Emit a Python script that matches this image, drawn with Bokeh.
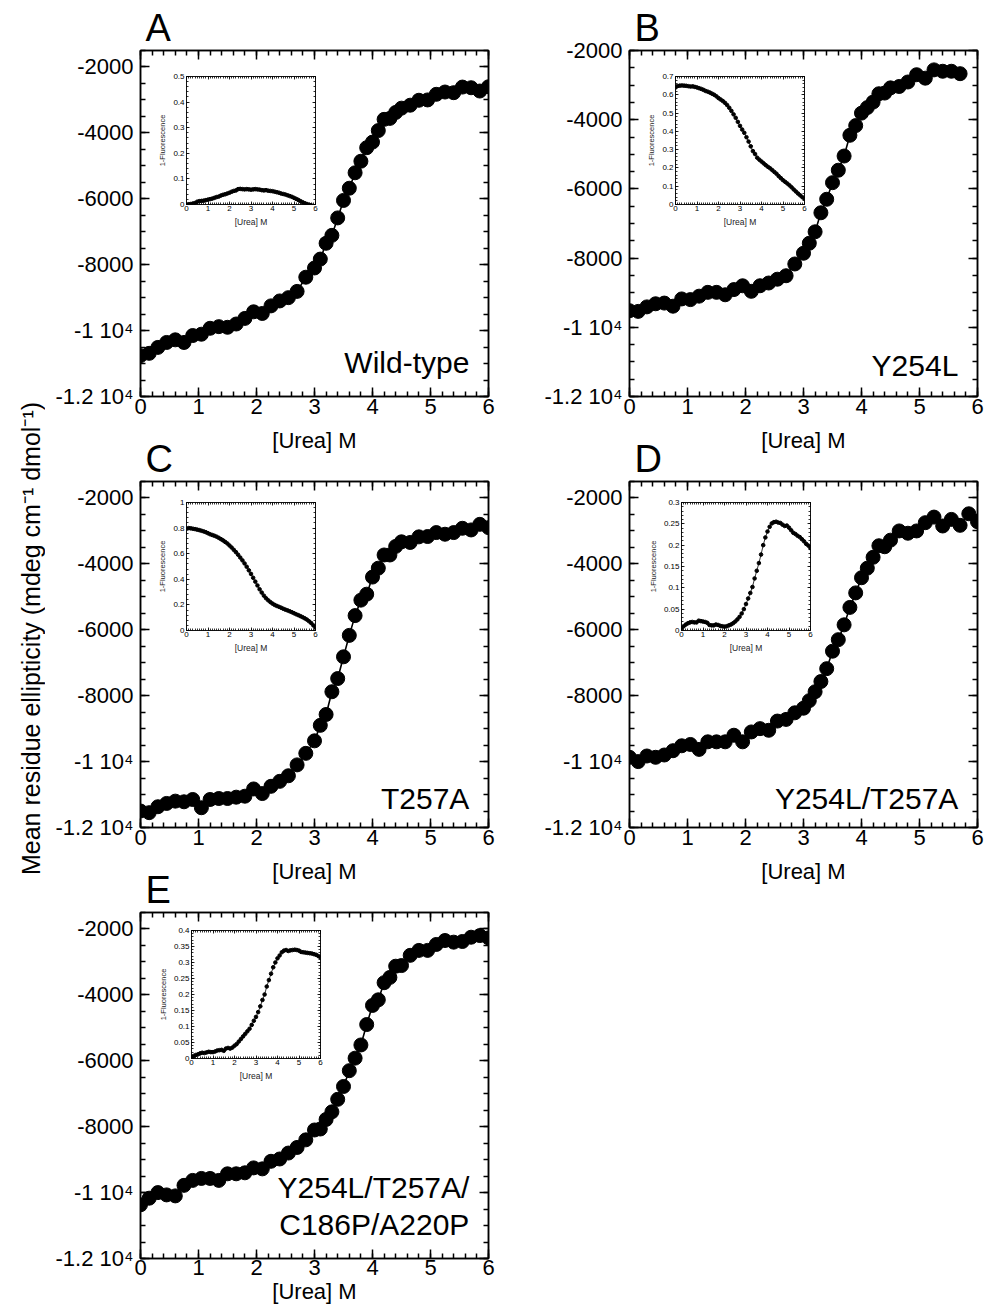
import numpy as np
from bokeh.plotting import figure
from bokeh.models import Range1d, LinearAxis, FixedTicker, Title, Label, CustomJSTickFormatter, Spacer
from bokeh.layouts import column, row
from bokeh.embed import file_html
from bokeh.resources import INLINE

FONT = "Liberation Sans"

# ---------------- data ----------------
UREA_CD = [0, 0.15, 0.3, 0.45, 0.6, 0.75, 0.9, 1.05, 1.2, 1.35, 1.5, 1.65, 1.8, 1.95, 2.1, 2.25, 2.4, 2.55, 2.7, 2.85,
           3.0, 3.1, 3.2, 3.3, 3.4, 3.5, 3.6, 3.7, 3.8, 3.9, 4.0, 4.1, 4.2, 4.3, 4.4, 4.5,
           4.65, 4.8, 4.95, 5.1, 5.25, 5.4, 5.55, 5.7, 5.85, 6.0]

CD_A = [-10760, -10690, -10510, -10360, -10280, -10360, -10150, -10110, -9930, -9880,
        -9900, -9800, -9630, -9430, -9480, -9250, -9100, -9000, -8810, -8380,
        -8100, -7830, -7350, -7110, -6580, -6050, -5680, -5210, -4860, -4450,
        -4280, -3930, -3590, -3560, -3380, -3250,
        -3160, -3010, -3000, -2830, -2760, -2780, -2610, -2630, -2730, -2600]
CD_B = [-9520, -9540, -9410, -9320, -9300, -9390, -9180, -9200, -9100, -8990,
        -8990, -9060, -8910, -8800, -8960, -8800, -8720, -8610, -8510, -8170,
        -7860, -7570, -7240, -6690, -6300, -5820, -5460, -5050, -4450, -4170,
        -3810, -3650, -3490, -3250, -3230, -3080,
        -3040, -2910, -2700, -2800, -2560, -2600, -2600, -2670]
CD_C = [-11500, -11550, -11370, -11270, -11200, -11220, -11150, -11400, -11150, -11120,
        -11120, -11080, -11050, -10830, -10970, -10750, -10600, -10430, -10100, -9750,
        -9370, -8900, -8570, -7880, -7480, -6820, -6170, -5570, -5100, -4920,
        -4400, -4130, -3730, -3730, -3470, -3330,
        -3350, -3180, -3170, -3050, -3100, -3050, -2920, -2970, -2800, -2900]
CD_D = [-9870, -10000, -9830, -9870, -9800, -9670, -9520, -9480, -9630, -9400,
        -9400, -9400, -9200, -9400, -9100, -9000, -9050, -8770, -8720, -8520,
        -8380, -8150, -7880, -7570, -7180, -6650, -6300, -5850, -5320, -4880,
        -4420, -4130, -3800, -3450, -3480, -3280,
        -3000, -3070, -3000, -2750, -2580, -2850, -2650, -2830, -2480, -2720]
CD_E = [-10370, -10170, -10000, -10070, -10100, -9780, -9630, -9570, -9570, -9630,
        -9430, -9430, -9400, -9250, -9280, -9050, -8980, -8800, -8630, -8400,
        -8100, -8070, -7780, -7550, -7170, -6780, -6300, -5920, -5520, -4900,
        -4320, -4150, -3630, -3470, -3130, -3110,
        -2800, -2650, -2650, -2470, -2350, -2400, -2380, -2250, -2200, -2270]

UREA_FL = [0.0, 0.1, 0.2, 0.3, 0.4, 0.5, 0.6, 0.7, 0.8, 0.9, 1.0, 1.1, 1.2, 1.3, 1.4, 1.5, 1.6, 1.7, 1.8, 1.9,
           2.0, 2.1, 2.2, 2.3, 2.4, 2.5, 2.6, 2.7, 2.8, 2.9, 3.0, 3.1, 3.2, 3.3, 3.4, 3.5, 3.6, 3.7, 3.8, 3.9,
           4.0, 4.1, 4.2, 4.3, 4.4, 4.5, 4.6, 4.7, 4.8, 4.9, 5.0, 5.1, 5.2, 5.3, 5.4, 5.5, 5.6, 5.7, 5.8, 5.9, 6.0]

FL_A = [0.000, 0.001, 0.002, 0.004, 0.006, 0.011, 0.013, 0.014, 0.015, 0.017,
        0.019, 0.021, 0.023, 0.026, 0.029, 0.031, 0.035, 0.038, 0.040, 0.043,
        0.046, 0.050, 0.053, 0.055, 0.060, 0.061, 0.060, 0.059, 0.060, 0.059,
        0.058, 0.059, 0.060, 0.059, 0.058, 0.056, 0.055, 0.056, 0.054, 0.053,
        0.052, 0.050, 0.048, 0.046, 0.043, 0.041, 0.039, 0.036, 0.033, 0.030,
        0.026, 0.022, 0.018, 0.013, 0.009, 0.005, 0.002, -0.001, -0.003]
FL_B = [0.640, 0.648, 0.650, 0.651, 0.650, 0.649, 0.647, 0.645, 0.646, 0.643,
        0.640, 0.636, 0.632, 0.627, 0.621, 0.617, 0.612, 0.606, 0.600, 0.592,
        0.582, 0.574, 0.566, 0.556, 0.544, 0.529, 0.512, 0.493, 0.474, 0.452,
        0.430, 0.410, 0.392, 0.368, 0.344, 0.318, 0.292, 0.276, 0.256, 0.245,
        0.235, 0.225, 0.215, 0.206, 0.198, 0.188, 0.178, 0.168, 0.155, 0.144,
        0.133, 0.124, 0.115, 0.105, 0.094, 0.082, 0.071, 0.060, 0.050, 0.040, 0.032]
FL_C = [0.795, 0.800, 0.798, 0.795, 0.792, 0.788, 0.784, 0.779, 0.774, 0.768,
        0.760, 0.752, 0.746, 0.740, 0.733, 0.724, 0.714, 0.704, 0.692, 0.680,
        0.664, 0.648, 0.630, 0.612, 0.592, 0.570, 0.548, 0.524, 0.498, 0.470,
        0.442, 0.412, 0.382, 0.352, 0.322, 0.296, 0.272, 0.252, 0.236, 0.222,
        0.210, 0.200, 0.192, 0.185, 0.178, 0.170, 0.163, 0.157, 0.150, 0.143,
        0.135, 0.127, 0.120, 0.112, 0.104, 0.095, 0.085, 0.072, 0.058, 0.040, 0.022]
FL_D = [0.005, 0.010, 0.014, 0.017, 0.019, 0.020, 0.019, 0.019, 0.023, 0.022,
        0.021, 0.020, 0.018, 0.013, 0.012, 0.012, 0.014, 0.013, 0.011, 0.010,
        0.009, 0.010, 0.012, 0.014, 0.017, 0.021, 0.026, 0.032, 0.040, 0.050,
        0.062, 0.075, 0.088, 0.102, 0.122, 0.140, 0.158, 0.178, 0.200, 0.218,
        0.232, 0.243, 0.251, 0.254, 0.255, 0.253, 0.252, 0.248, 0.245, 0.246,
        0.241, 0.235, 0.229, 0.226, 0.222, 0.219, 0.214, 0.209, 0.203, 0.199, 0.193]
FL_E = [0.003, 0.008, 0.011, 0.013, 0.016, 0.018, 0.017, 0.019, 0.021, 0.020,
        0.020, 0.022, 0.025, 0.026, 0.027, 0.024, 0.031, 0.033, 0.031, 0.034,
        0.040, 0.045, 0.053, 0.061, 0.069, 0.077, 0.085, 0.093, 0.105, 0.118,
        0.130, 0.145, 0.163, 0.183, 0.200, 0.225, 0.245, 0.265, 0.285, 0.300,
        0.313, 0.322, 0.332, 0.337, 0.339, 0.336, 0.338, 0.339, 0.340, 0.339,
        0.337, 0.333, 0.332, 0.331, 0.330, 0.329, 0.328, 0.326, 0.324, 0.320, 0.316]

PANEL_LETTERS = ["A", "B", "C", "D", "E"]
VARIANTS = [["Wild-type"], ["Y254L"], ["T257A"], ["Y254L/T257A"], ["Y254L/T257A/", "C186P/A220P"]]
CD_TICKS = [-12000, -10000, -8000, -6000, -4000, -2000]
CD_TICK_LABELS = ["-1.2 10\u2074", "-1 10\u2074", "-8000", "-6000", "-4000", "-2000"]
UREA_TICKS = [0, 1, 2, 3, 4, 5, 6]
X_LABEL = "[Urea] M"
Y_LABEL = "Mean residue ellipticity (mdeg cm\u207b\u00b9 dmol\u207b\u00b9)"
FL_LABEL = "1-Fluorescence"
FL_YMAX = [0.5, 0.7, 1.0, 0.3, 0.4]
FL_YSTEP = [0.1, 0.1, 0.2, 0.05, 0.05]

# ---------------- geometry / style ----------------
FW, FH = 348, 346
TOPB = 50
BOT_UPPER, STAND_UPPER = 65, 11     # rows 1-2: room for the x-axis title
BOT_LAST, STAND_LAST = 54, 1        # last row must fit the window
ROW_PITCH = 430
IFW, IFH = 129, 128
IL, IT, IR, IB = 30, 5, 6, 24
INS_H = IT + IFH + IB
LW = 1.5
YLAB_W, YLAB_H, YLAB_SHIFT = 44, 560, 24


def hide_labels(ax):
    ax.formatter = CustomJSTickFormatter(code="return ''")
    ax.major_label_text_font_size = "1px"
    ax.major_label_standoff = 0


def style_axis(ax, ticks, minor, tin, min_in, lw, font_size=None, overrides=None, hidden=False):
    ax.ticker = FixedTicker(ticks=ticks, minor_ticks=minor)
    ax.major_tick_in = tin
    ax.major_tick_out = 0
    ax.minor_tick_in = min_in
    ax.minor_tick_out = 0
    for a in ("axis_line", "major_tick_line", "minor_tick_line"):
        setattr(ax, a + "_color", "black")
        setattr(ax, a + "_width", lw)
    if hidden:
        hide_labels(ax)
    else:
        ax.major_label_text_font = FONT
        ax.major_label_text_font_size = font_size
        ax.major_label_text_color = "black"
        if overrides:
            ax.major_label_overrides = overrides


def make_main(idx, x, y, ymax, left_b, right_b, ann_y, botb, lab_standoff, tick_standoff):
    p = figure(frame_width=FW, frame_height=FH, x_range=Range1d(0, 6), y_range=Range1d(-12000, ymax),
               output_backend="svg", toolbar_location=None,
               min_border_left=left_b, min_border_right=right_b, min_border_top=TOPB, min_border_bottom=botb,
               background_fill_color="white", border_fill_color=None,
               outline_line_color="black", outline_line_width=LW)
    p.grid.visible = False
    xminor = [i / 5 for i in range(31)]
    yminor = [v for v in range(-12000, int(ymax) + 1, 500)]
    ytick_over = {t: l for t, l in zip(CD_TICKS, CD_TICK_LABELS)}
    style_axis(p.xaxis[0], UREA_TICKS, xminor, 9, 5, LW, "22px")
    p.xaxis[0].major_label_standoff = tick_standoff
    p.xaxis[0].axis_label = X_LABEL
    p.xaxis[0].axis_label_text_font = FONT
    p.xaxis[0].axis_label_text_font_size = "22px"
    p.xaxis[0].axis_label_text_font_style = "normal"
    p.xaxis[0].axis_label_text_color = "black"
    p.xaxis[0].axis_label_standoff = lab_standoff
    style_axis(p.yaxis[0], CD_TICKS, yminor, 9, 5, LW, "22px", ytick_over)
    p.yaxis[0].major_label_standoff = 7
    top = LinearAxis()
    style_axis(top, UREA_TICKS, xminor, 9, 5, LW, hidden=True)
    p.add_layout(top, "above")
    right = LinearAxis()
    style_axis(right, CD_TICKS, yminor, 9, 5, LW, hidden=True)
    p.add_layout(right, "right")

    p.line(x, y, line_color="black", line_width=1.6)
    p.scatter(x, y, size=14, fill_color="black", line_color="black")

    p.add_layout(Title(text=PANEL_LETTERS[idx], text_font=FONT, text_font_size="38px", text_color="black",
                       text_font_style="normal", align="left", offset=5, standoff=4), "above")
    lines = VARIANTS[idx]
    for k, t in enumerate(lines):
        p.add_layout(Label(x=5.67, y=ann_y[k], text=t, text_align="right", text_baseline="middle",
                           text_font=FONT, text_font_size="30px", text_color="black"))
    return p


def make_inset(idx, y, n):
    ymax = FL_YMAX[idx]
    step = FL_YSTEP[idx]
    p = figure(frame_width=IFW, frame_height=IFH, x_range=Range1d(0, 6), y_range=Range1d(0, ymax),
               output_backend="svg", toolbar_location=None,
               min_border_left=IL, min_border_right=IR, min_border_top=IT, min_border_bottom=IB,
               background_fill_color="white", border_fill_color=None,
               outline_line_color="#333333", outline_line_width=0.8)
    p.grid.visible = False
    nmaj = int(round(ymax / step))
    yt = [round(i * step, 3) for i in range(nmaj + 1)]
    ymin = [round(i * step / 5, 4) for i in range(nmaj * 5 + 1)]
    xmin = [i / 10 for i in range(61)]
    ylab = {t: ("%g" % t) for t in yt}
    style_axis(p.xaxis[0], UREA_TICKS, xmin, 3, 2, 0.8, "8px")
    p.xaxis[0].major_label_standoff = 1
    p.xaxis[0].axis_label = X_LABEL
    p.xaxis[0].axis_label_text_font = FONT
    p.xaxis[0].axis_label_text_font_size = "8.5px"
    p.xaxis[0].axis_label_text_font_style = "normal"
    p.xaxis[0].axis_label_text_color = "#222222"
    p.xaxis[0].axis_label_standoff = 3
    style_axis(p.yaxis[0], yt, ymin, 3, 2, 0.8, "8px", ylab)
    p.yaxis[0].major_label_standoff = 2
    p.yaxis[0].axis_label = FL_LABEL
    p.yaxis[0].axis_label_text_font = FONT
    p.yaxis[0].axis_label_text_font_size = "7.5px"
    p.yaxis[0].axis_label_text_font_style = "normal"
    p.yaxis[0].axis_label_text_color = "#222222"
    p.yaxis[0].axis_label_standoff = 3
    top = LinearAxis()
    style_axis(top, UREA_TICKS, xmin, 3, 2, 0.8, hidden=True)
    p.add_layout(top, "above")
    right = LinearAxis()
    style_axis(right, yt, ymin, 3, 2, 0.8, hidden=True)
    p.add_layout(right, "right")
    xs = UREA_FL[:n]
    p.line(xs, y, line_color="black", line_width=0.8)
    p.scatter(xs, y, size=3.6, fill_color="black", line_color="black")
    return p


def make_ylabel(row_h):
    p = figure(frame_width=1, frame_height=YLAB_H, x_range=Range1d(0, 1), y_range=Range1d(0, 1),
               x_axis_type=None, y_axis_type=None, output_backend="svg", toolbar_location=None,
               min_border_left=YLAB_W, min_border_right=0, min_border_top=0, min_border_bottom=0,
               background_fill_color=None, border_fill_color=None, outline_line_color=None)
    p.grid.visible = False
    p.add_layout(Title(text=Y_LABEL, text_font=FONT, text_font_size="25px", text_font_style="normal",
                       text_color="black", align="center", standoff=0), "left")
    extra = (YLAB_H - row_h) // 2
    p.margin = (-extra - YLAB_SHIFT, 0, -(YLAB_H - row_h - extra) + YLAB_SHIFT, 0)
    return p


def stack(main, inset, main_h, ins_left, ins_top):
    holder = row(Spacer(width=ins_left, height=INS_H), inset, spacing=0,
                 margin=(ins_top - main_h, 0, main_h - ins_top - INS_H, 0))
    return column(main, holder, spacing=0)


LEFT_L, LEFT_R = 140, 8
RIGHT_L, RIGHT_R = 133, 7
C_LEFT = LEFT_L - (YLAB_W + 1)
H_UP = TOPB + FH + BOT_UPPER
H_LAST = TOPB + FH + BOT_LAST
UP = (BOT_UPPER, STAND_UPPER, 2)
LAST = (BOT_LAST, STAND_LAST, 1)

pA = make_main(0, UREA_CD, CD_A, -1500, LEFT_L, LEFT_R, [-10980], *UP)
pB = make_main(1, UREA_CD[:len(CD_B)], CD_B, -2000, RIGHT_L, RIGHT_R, [-11090], *UP)
pC = make_main(2, UREA_CD, CD_C, -1500, C_LEFT, LEFT_R, [-11120], *UP)
pD = make_main(3, UREA_CD, CD_D, -1500, RIGHT_L, RIGHT_R, [-11120], *UP)
pE = make_main(4, UREA_CD, CD_E, -1500, LEFT_L, LEFT_R, [-9850, -10980], *LAST)

iA = make_inset(0, FL_A, len(FL_A))
iB = make_inset(1, FL_B, len(FL_B))
iC = make_inset(2, FL_C, len(FL_C))
iD = make_inset(3, FL_D, len(FL_D))
iE = make_inset(4, FL_E, len(FL_E))

cA = stack(pA, iA, H_UP, LEFT_L + 45 - IL, TOPB + 26 - IT)
cB = stack(pB, iB, H_UP, RIGHT_L + 45 - IL, TOPB + 26 - IT)
cC = stack(pC, iC, H_UP, C_LEFT + 45 - IL, TOPB + 21 - IT)
cD = stack(pD, iD, H_UP, RIGHT_L + 46 - IL, TOPB + 21 - IT)
cE = stack(pE, iE, H_LAST, LEFT_L + 45 - IL, TOPB + 18 - IT)

ylab = make_ylabel(H_UP)

r1 = row(cA, cB, spacing=0)
r2 = row(ylab, cC, cD, spacing=0)
r2.margin = (ROW_PITCH - H_UP, 0, 0, 0)
r3 = row(cE, spacing=0)
r3.margin = (ROW_PITCH - H_UP, 0, 0, 0)
layout = column(r1, r2, r3, spacing=0)

open("out.html", "w").write(file_html(layout, INLINE))
